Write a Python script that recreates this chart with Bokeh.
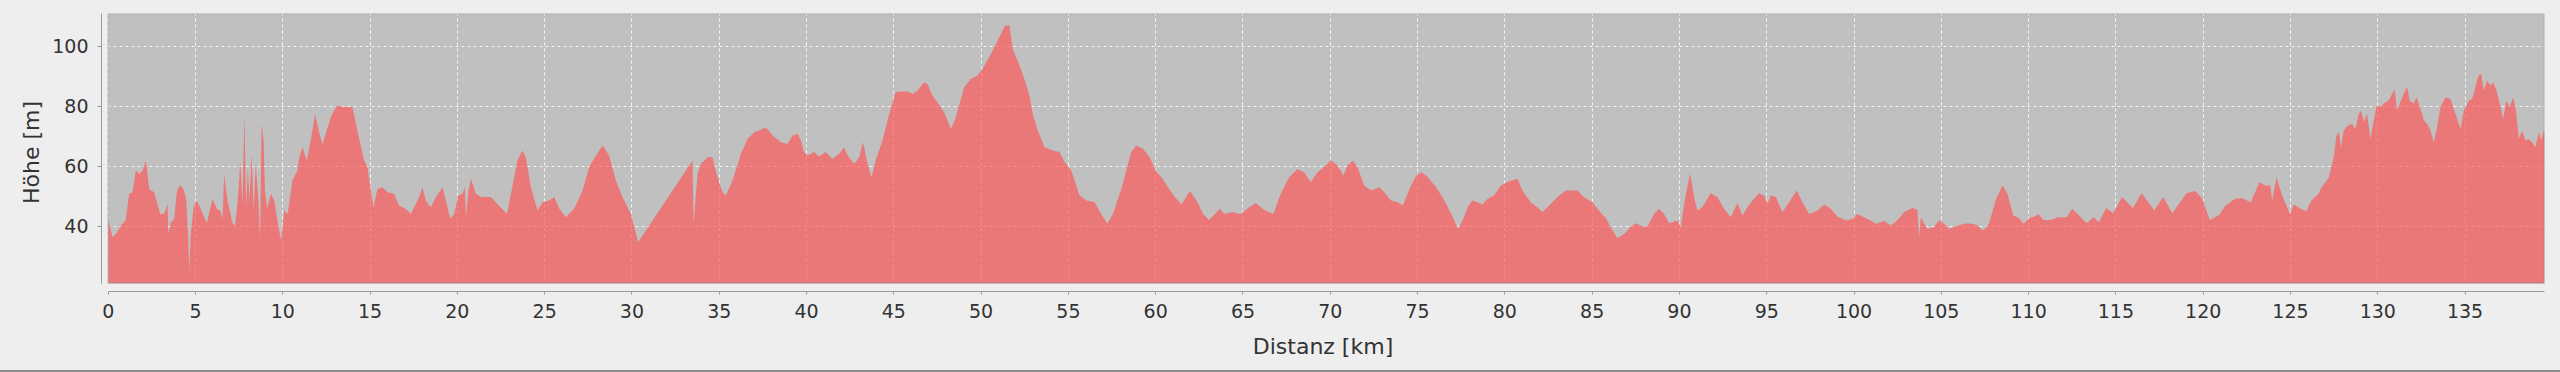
from bokeh.plotting import figure
from bokeh.models import Range1d, SingleIntervalTicker, BoxAnnotation, ColumnDataSource
from bokeh.embed import file_html
from bokeh.resources import INLINE

# ---- data ----
distance_km = [
    0.0, 0.25, 0.44, 0.73, 1.0, 1.2, 1.39, 1.58, 1.77, 1.97, 2.16, 2.35, 2.63, 2.98, 3.2, 3.4, 3.45, 3.59, 3.78, 3.93,
    4.07, 4.26, 4.45, 4.58, 4.64, 4.73, 4.89, 5.06, 5.3, 5.65, 5.97, 6.22, 6.41, 6.55, 6.64, 6.83, 7.13,
    7.27, 7.42, 7.57, 7.69, 7.8, 7.9, 8.0, 8.09, 8.22, 8.33, 8.45, 8.6, 8.7, 8.79, 8.9, 8.98, 9.1, 9.32, 9.51, 9.74,
    9.9, 10.09, 10.28, 10.55,
    10.84, 10.94, 11.13, 11.37, 11.6, 11.85, 12.08, 12.27, 12.46, 12.75, 13.09, 13.51, 13.99, 14.27, 14.66, 14.85, 15.19, 15.42, 15.71, 16.0,
    16.37, 16.66, 17.04, 17.33, 17.62, 17.81, 18.0, 18.19, 18.48, 18.77, 19.15, 19.34, 19.59, 19.82, 20.05, 20.3, 20.43, 20.49, 20.64, 20.77,
    21.06, 21.35, 21.73, 21.92, 22.3, 22.84, 23.07, 23.44, 23.73, 23.92, 24.21, 24.59, 24.88, 25.26, 25.55, 25.84, 26.21, 26.69, 27.17, 27.55,
    27.94, 28.32, 28.69, 29.08, 29.46, 29.94, 30.13, 30.36, 33.47, 33.53, 33.76, 33.95, 34.33, 34.61, 34.9, 35.19, 35.38, 35.76, 36.24, 36.62,
    37.0, 37.29, 37.67, 38.06, 38.53, 38.91, 39.2, 39.49, 39.68, 39.86, 40.05, 40.43, 40.72, 41.1, 41.48, 41.86, 42.15, 42.35, 42.73, 43.01,
    43.24, 43.49, 43.72, 43.96, 44.35, 44.73, 45.11, 45.78, 46.07, 46.36, 46.74, 46.93, 47.21, 47.5, 47.88, 48.27, 48.55, 49.03, 49.41, 49.79,
    50.08, 50.56, 51.04, 51.37, 51.62, 51.81, 52.2, 52.48, 52.77, 52.96, 53.25, 53.63, 54.11, 54.49, 54.78, 55.17, 55.64, 56.03, 56.5, 56.88,
    57.23, 57.55, 58.03, 58.6, 58.89, 59.27, 59.65, 60.05, 60.33, 60.71, 61.1, 61.48, 61.96, 62.34, 62.72, 63.05, 63.39, 63.7, 63.92, 64.4,
    64.87, 65.35, 65.73, 66.21, 66.74, 67.16, 67.64, 68.12, 68.5, 68.88, 69.27, 69.65, 70.03, 70.41, 70.76, 70.99, 71.28, 71.56, 71.94, 72.33,
    72.81, 73.1, 73.48, 73.86, 74.15, 74.54, 74.92, 75.24, 75.59, 76.06, 76.54, 77.02, 77.32, 77.66, 77.86, 78.14, 78.43, 78.71, 79.0, 79.38,
    79.77, 80.14, 80.72, 81.01, 81.48, 81.86, 82.15, 82.53, 83.01, 83.49, 84.15, 84.53, 85.01, 85.49, 85.78, 86.06, 86.44, 86.83, 87.21, 87.5,
    87.88, 88.17, 88.55, 88.83, 89.12, 89.41, 89.89, 90.08, 90.3, 90.61, 90.84, 91.03, 91.31, 91.79, 92.17, 92.55, 92.94, 93.32, 93.61, 93.89,
    94.18, 94.56, 94.85, 95.04, 95.23, 95.52, 95.9, 96.28, 96.72, 97.05, 97.43, 97.91, 98.29, 98.67, 99.05, 99.53, 99.91, 100.19, 100.57, 100.96,
    101.24, 101.72, 102.1, 102.48, 102.87, 103.34, 103.63, 103.73, 103.82, 104.2, 104.58, 104.87, 105.16, 105.44, 105.92, 106.49, 106.97, 107.41, 107.73, 108.11,
    108.5, 108.79, 109.12, 109.42, 109.73, 110.04, 110.34, 110.55, 110.85, 111.26, 111.67, 112.19, 112.49, 112.9, 113.31, 113.72, 114.03, 114.44, 114.84, 115.35,
    115.97, 116.48, 117.2, 117.71, 118.23, 119.04, 119.55, 119.96, 120.37, 120.88, 121.29, 121.8, 122.21, 122.72, 123.23, 123.54, 123.85, 123.95, 124.2, 124.56,
    124.97, 125.18, 125.59, 125.9, 126.2, 126.61,
    126.72, 127.2, 127.48, 127.63, 127.77, 127.9, 128.05, 128.28, 128.53, 128.72, 128.91, 129.05, 129.2, 129.39, 129.58, 129.77, 129.93, 130.15, 130.44, 130.63,
    130.82, 130.96, 131.11, 131.4, 131.68, 131.83, 132.06, 132.22, 132.45, 132.64, 132.83, 133.02, 133.21, 133.4, 133.59, 133.88, 134.16, 134.45, 134.74, 134.93,
    135.21, 135.4, 135.59, 135.78, 135.92, 136.07, 136.26, 136.45, 136.61, 136.8, 136.99, 137.18, 137.37, 137.56, 137.75, 137.89, 138.08, 138.27, 138.46, 138.65,
    138.84, 139.03, 139.22, 139.36, 139.51, 139.55,
]
elevation_m = [
    42.5, 36.3, 37.4, 40.2, 41.9, 50.8, 51.3, 58.6, 57.4, 58.6, 61.9, 52.4, 51.3, 44.1, 44.1, 47.4, 37.4, 41.3, 42.4, 51.3,
    53.6, 53.0, 49.7, 37.4, 25.0, 37.4, 46.3, 48.6, 45.8, 41.0, 49.1, 45.8, 45.2, 42.4, 57.4, 48.6, 40.8,
    40.2, 48.6, 61.3, 47.4, 77.4, 46.3, 59.7, 48.6, 64.1, 45.2, 60.8, 48.6, 36.3, 74.1, 68.6, 51.9, 45.8, 50.8, 48.6, 40.2,
    35.2, 45.2, 44.1, 55.2,
    58.6, 63.0, 66.3, 61.9, 68.6, 77.4, 71.3, 67.4, 70.8, 76.3, 80.2, 79.7, 79.7, 71.9, 61.9, 59.7, 46.3, 52.4, 53.0, 51.3,
    50.8, 46.9, 45.8, 44.1, 47.4, 49.7, 53.0, 48.6, 46.3, 49.7, 53.0, 48.6, 42.4, 44.1, 50.2, 50.8, 53.0, 43.0, 51.9, 55.8,
    50.8, 49.7, 49.7, 49.7, 47.4, 44.1, 50.8, 61.9, 65.2, 63.0, 53.0, 45.2, 48.0, 48.6, 49.7, 45.8, 43.0, 45.8, 51.9, 59.7,
    63.6, 66.9, 63.6, 55.2, 49.7, 44.1, 39.7, 34.7, 61.9, 40.8, 57.4, 60.8, 63.0, 63.0, 56.3, 51.3, 50.2, 55.2, 64.1, 69.1,
    71.3, 71.9, 73.0, 70.2, 68.0, 67.4, 70.2, 70.8, 68.6, 64.7, 63.6, 64.7, 63.2, 64.7, 62.4, 64.1, 66.3, 63.6, 60.8, 63.0,
    68.0, 60.8, 56.3, 61.9, 68.6, 77.4, 84.7, 85.0, 84.1, 85.2, 88.0, 87.4, 83.6, 81.3, 78.0, 72.4, 76.3, 86.3, 89.1, 90.2,
    92.4, 97.4, 103.0, 106.9, 106.9, 99.1, 93.6, 89.1, 83.6, 77.4, 71.9, 66.3, 65.2, 64.7, 61.3, 58.6, 50.2, 48.6, 48.0, 44.1,
    40.8, 44.1, 52.4, 64.7, 66.9, 65.8, 63.0, 58.0, 56.3, 53.0, 49.7, 47.2, 51.7, 48.6, 44.1, 42.1, 44.1, 45.8, 44.1, 44.7,
    44.1, 46.3, 47.7, 45.4, 44.1, 50.8, 56.3, 59.1, 58.0, 54.7, 58.0, 59.7, 61.9, 60.2, 56.9, 60.2, 61.9, 59.7, 53.6, 51.9,
    53.0, 51.3, 48.6, 48.0, 46.9, 52.4, 56.9, 58.0, 56.3, 53.0, 48.6, 43.0, 39.1, 43.0, 46.3, 48.6, 48.0, 47.2, 49.1, 50.2,
    53.6, 54.7, 55.8, 51.9, 48.0, 46.3, 44.7, 46.9, 49.7, 51.9, 51.9, 49.7, 48.0, 44.5, 42.7, 39.7, 36.1, 37.4, 39.7, 41.0,
    39.9, 39.9, 44.1, 45.8, 44.1, 41.0, 41.9, 39.7, 48.6, 57.7, 49.7, 45.2, 46.3, 51.0, 49.7, 45.8, 43.0, 47.7, 43.6, 46.3,
    48.6, 51.0, 50.2, 47.4, 50.2, 49.7, 44.7, 48.0, 51.9, 48.0, 44.1, 45.2, 47.2, 45.8, 43.2, 41.9, 42.4, 44.1, 43.0, 41.9,
    40.8, 41.7, 40.2, 41.9, 44.7, 46.1, 45.4, 36.3, 43.0, 39.1, 39.7, 41.9, 40.8, 39.1, 40.2, 41.0, 40.6, 38.6, 40.8, 48.6,
    53.6, 50.8, 43.6, 42.8, 40.8, 42.8, 43.2, 44.1, 42.1, 42.1, 43.0, 43.0, 45.8, 43.6, 41.0, 43.0, 41.3, 46.1, 44.3, 49.7,
    46.1, 51.0, 45.2, 49.7, 44.3, 51.0, 51.7, 49.1, 42.1, 43.6, 46.9, 49.1, 49.4, 48.0, 54.7, 53.6, 53.6, 48.6, 56.3, 49.7,
    44.1, 47.2, 45.8, 45.0, 48.6, 50.8,
    52.4, 56.3, 63.0, 70.2, 71.3, 66.3, 71.9, 73.6, 74.1, 72.4, 77.4, 78.6, 74.7, 77.4, 69.1, 75.2, 80.2, 79.7, 81.3, 81.9,
    84.1, 85.8, 78.6, 83.0, 86.6, 81.9, 80.8, 83.0, 79.1, 75.2, 74.1, 71.9, 68.0, 73.0, 79.7, 83.0, 82.4, 77.4, 72.4, 78.6,
    81.9, 82.4, 86.3, 90.2, 90.8, 85.2, 88.6, 86.9, 88.0, 85.2, 80.8, 75.8, 81.9, 79.7, 83.0, 79.7, 69.1, 71.9, 68.6, 69.1,
    68.0, 66.3, 71.3, 68.6, 71.9, 70.8,
]
assert len(distance_km) == len(elevation_m)

x_tick_interval = 5
y_tick_interval = 20
x_label = "Distanz [km]"
y_label = "Höhe [m]"

# ---- plot area extents (data units) ----
X_MIN, X_MAX = 0.0, 139.55
Y_MIN, Y_MAX = 21.0, 110.9
X_GAP = 0.384   # space between y axis line and plot area
Y_GAP = 2.77    # space between x axis line and plot area

FONT = "DejaVu Sans"
PAGE_BG = "#eeeeee"

src = ColumnDataSource(dict(km=distance_km, elev=elevation_m))

p = figure(width=2552, height=364, output_backend="svg", toolbar_location=None,
           x_range=Range1d(X_MIN - X_GAP, X_MAX), y_range=Range1d(Y_MIN - Y_GAP, Y_MAX),
           min_border_left=101, min_border_right=8, min_border_top=13, min_border_bottom=73,
           background_fill_color=PAGE_BG, border_fill_color=PAGE_BG, outline_line_color=None)

# grey plot background
p.add_layout(BoxAnnotation(left=X_MIN, right=X_MAX, bottom=Y_MIN, top=Y_MAX,
                           fill_color="#c0c0c0", fill_alpha=1.0, line_color=None, level="image"))

# grid
p.xgrid.ticker = SingleIntervalTicker(interval=x_tick_interval, num_minor_ticks=0)
p.ygrid.ticker = SingleIntervalTicker(interval=y_tick_interval, num_minor_ticks=0)
for g in (p.xgrid, p.ygrid):
    g.grid_line_color = "white"
    g.grid_line_alpha = 0.85
    g.grid_line_width = 1
    g.grid_line_dash = "3 3"

# elevation area
p.varea(x="km", y1=Y_MIN, y2="elev", source=src, fill_color="#ff5555", fill_alpha=0.67)

# covers for the gaps between axes and plot area
p.add_layout(BoxAnnotation(left=X_MIN - X_GAP, right=X_MIN, bottom=Y_MIN - Y_GAP, top=Y_MAX,
                           fill_color=PAGE_BG, fill_alpha=1.0, line_color=None, level="glyph"))
p.add_layout(BoxAnnotation(left=X_MIN - X_GAP, right=X_MAX, bottom=Y_MIN - Y_GAP, top=Y_MIN,
                           fill_color=PAGE_BG, fill_alpha=1.0, line_color=None, level="glyph"))
# plot area outline
p.add_layout(BoxAnnotation(left=X_MIN, right=X_MAX, bottom=Y_MIN, top=Y_MAX,
                           fill_color=None, line_color="#5a5a5a", line_width=1.5))

# axes
p.xaxis.ticker = SingleIntervalTicker(interval=x_tick_interval, num_minor_ticks=0)
p.yaxis.ticker = SingleIntervalTicker(interval=y_tick_interval, num_minor_ticks=0)
p.xaxis.bounds = (X_MIN, X_MAX)
p.yaxis.bounds = (Y_MIN, Y_MAX)
p.xaxis.axis_label = x_label
p.yaxis.axis_label = y_label
for ax in (p.xaxis, p.yaxis):
    ax.axis_line_color = "#9a9a9a"
    ax.axis_line_width = 1
    ax.major_tick_line_color = "#9a9a9a"
    ax.major_tick_in = 0
    ax.minor_tick_line_color = None
    ax.major_label_text_font = FONT
    ax.major_label_text_font_size = "19px"
    ax.major_label_text_color = "#333333"
    ax.axis_label_text_font = FONT
    ax.axis_label_text_font_size = "22px"
    ax.axis_label_text_font_style = "normal"
    ax.axis_label_text_color = "#333333"
p.xaxis.major_tick_out = 3
p.yaxis.major_tick_out = 4
p.xaxis.major_label_standoff = 9
p.yaxis.major_label_standoff = 9
p.xaxis.axis_label_standoff = 13
p.yaxis.axis_label_standoff = 5

html = file_html(p, INLINE)
css = ("<style>html,body{background-color:#eeeeee;}"
       "body::after{content:'';position:fixed;left:0;right:0;bottom:0;height:2px;background:#8c8c8c;}</style>")
html = html.replace("</head>", css + "</head>", 1)
open("out.html", "w").write(html)
